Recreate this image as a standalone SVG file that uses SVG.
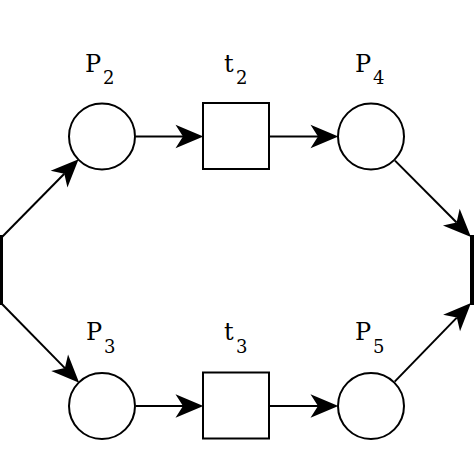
<svg xmlns="http://www.w3.org/2000/svg" width="474" height="474" viewBox="0 0 474 474">
<style>
.pl{fill:#fff;stroke:#000;stroke-width:2}
.tr{fill:#fff;stroke:#000;stroke-width:2}
.bar{fill:#000}
.arc{stroke:#000;stroke-width:2;fill:none}
text{font-family:'DejaVu Serif','Liberation Serif',serif;font-size:24px;fill:#000}
.sb{font-size:18px}
</style>
<defs>
<marker id="ah" markerUnits="userSpaceOnUse" markerWidth="30" markerHeight="26" viewBox="-1 -12 28 24" refX="7" refY="0" orient="auto">
<path d="M0,-11 L26,0 L0,11 L7,0 Z" fill="#000"/>
</marker>
</defs>
<rect width="474" height="474" fill="#fff"/>
<g id="connectors">
<line class="arc" x1="136" y1="136.5" x2="183" y2="136.5" marker-end="url(#ah)"/>
<line class="arc" x1="270" y1="136.5" x2="318" y2="136.5" marker-end="url(#ah)"/>
<line class="arc" x1="136" y1="406" x2="183" y2="406" marker-end="url(#ah)"/>
<line class="arc" x1="270" y1="406" x2="318" y2="406" marker-end="url(#ah)"/>
<line class="arc" x1="2" y1="237" x2="64.3" y2="173.8" marker-end="url(#ah)"/>
<line class="arc" x1="2" y1="304" x2="64.9" y2="368.1" marker-end="url(#ah)"/>
<line class="arc" x1="395" y1="160.6" x2="456.6" y2="222.5" marker-end="url(#ah)"/>
<line class="arc" x1="394.7" y1="381.6" x2="456.8" y2="317.6" marker-end="url(#ah)"/>
</g>
<g id="t1"><rect class="bar" x="-3" y="235" width="6" height="70"/></g>
<g id="t4"><rect class="bar" x="470" y="235" width="8" height="70"/></g>
<g id="P2"><circle class="pl" cx="102" cy="136.5" r="33"/><text x="85" y="72">P<tspan class="sb" x="103" y="84">2</tspan></text></g>
<g id="t2"><rect class="tr" x="203" y="103" width="66" height="66"/><text x="224" y="72">t<tspan class="sb" x="236" y="84">2</tspan></text></g>
<g id="P4"><circle class="pl" cx="371" cy="136.5" r="33"/><text x="355" y="72">P<tspan class="sb" x="373" y="84">4</tspan></text></g>
<g id="P3"><circle class="pl" cx="102" cy="406" r="33"/><text x="86" y="340">P<tspan class="sb" x="104" y="353">3</tspan></text></g>
<g id="t3"><rect class="tr" x="203" y="372.5" width="66" height="66"/><text x="224" y="340">t<tspan class="sb" x="236" y="353">3</tspan></text></g>
<g id="P5"><circle class="pl" cx="371" cy="406" r="33"/><text x="355" y="340">P<tspan class="sb" x="373" y="353">5</tspan></text></g>
</svg>
